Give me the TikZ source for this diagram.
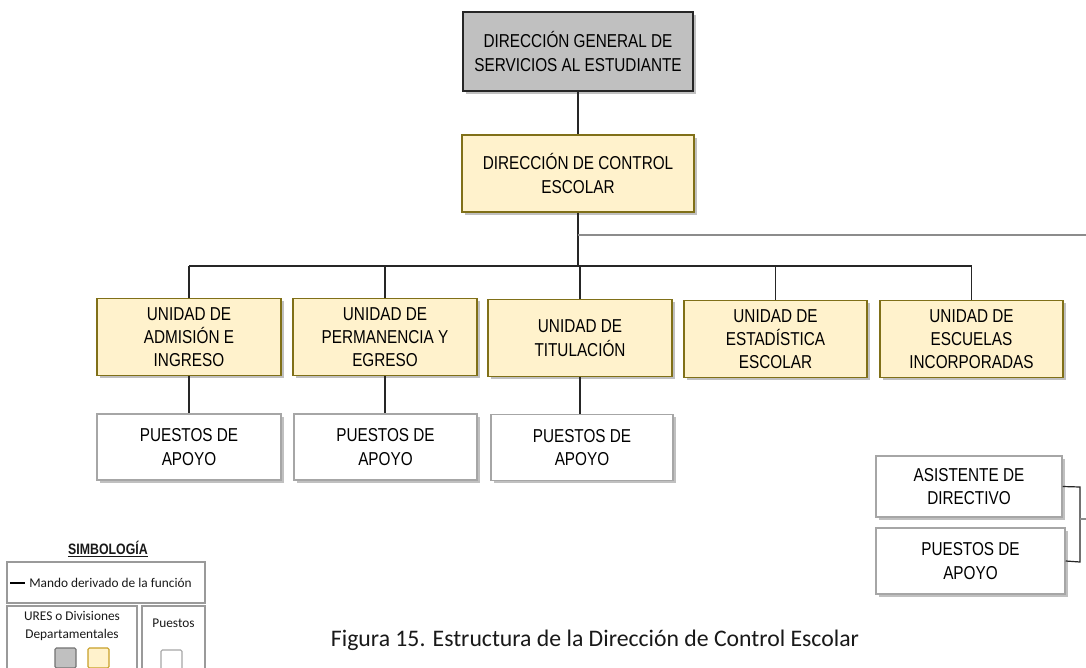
\documentclass[tikz,border=0pt]{standalone}
\usepackage{fontspec}
\setmainfont{Liberation Sans}[FakeStretch=0.82]
\newfontfamily\calfont{Carlito}
\usetikzlibrary{shadows}
\definecolor{unitfill}{HTML}{FFF2CC}
\definecolor{unitdraw}{RGB}{128,112,24}
\definecolor{dgfill}{HTML}{C0C0C0}
\definecolor{wdraw}{HTML}{A6A6A6}
\definecolor{legdraw}{HTML}{9A9A9A}
\tikzset{
  boxbase/.style={rectangle, align=center, text=black,
    font=\fontsize{14}{17.5}\selectfont, inner sep=2pt,
    drop shadow={shadow xshift=2.2pt, shadow yshift=-2.2pt, opacity=0.35, fill=black!70}},
  dgbox/.style={boxbase, fill=dgfill, draw=black!85, line width=1.1pt},
  unitbox/.style={boxbase, fill=unitfill, draw=unitdraw, line width=1.1pt},
  postbox/.style={boxbase, fill=white, draw=wdraw, line width=1.1pt},
  conn/.style={draw=black!85, line width=0.9pt},
  thinconn/.style={draw=black!45, line width=0.8pt},
  legbox/.style={draw=legdraw, line width=0.8pt},
  legtext/.style={font=\calfont\fontsize{10}{13}\selectfont, text=black!90, align=center, inner sep=0pt}
}
\begin{document}
\begin{tikzpicture}[x=0.75pt,y=-0.75pt]
\clip (0,0) rectangle (1086,668);
\fill[white] (0,0) rectangle (1086,668);

% top levels
\node[dgbox, minimum width=172.5pt, minimum height=59.25pt] (dg) at (578,51.5)
  {DIRECCIÓN GENERAL DE\\SERVICIOS AL ESTUDIANTE};
\node[unitbox, minimum width=174pt, minimum height=57.75pt] (dce) at (578,173.5)
  {DIRECCIÓN DE CONTROL\\ESCOLAR};

% units
\node[unitbox, minimum width=138pt, minimum height=57.75pt] (u1) at (189,337)
  {UNIDAD DE\\ADMISIÓN E\\INGRESO};
\node[unitbox, minimum width=138pt, minimum height=57.75pt] (u2) at (385,337)
  {UNIDAD DE\\PERMANENCIA Y\\EGRESO};
\node[unitbox, minimum width=138pt, minimum height=57.75pt] (u3) at (580,338)
  {UNIDAD DE\\TITULACIÓN};
\node[unitbox, minimum width=137pt, minimum height=57.75pt] (u4) at (775.5,339)
  {UNIDAD DE\\ESTADÍSTICA\\ESCOLAR};
\node[unitbox, minimum width=137pt, minimum height=57.75pt] (u5) at (971.5,339)
  {UNIDAD DE\\ESCUELAS\\INCORPORADAS};

% support posts
\node[postbox, minimum width=138pt, minimum height=49.5pt] (p1) at (189,447)
  {PUESTOS DE\\APOYO};
\node[postbox, minimum width=137.25pt, minimum height=49.5pt] (p2) at (385.5,447)
  {PUESTOS DE\\APOYO};
\node[postbox, minimum width=136.5pt, minimum height=49.5pt] (p3) at (582,447.5)
  {PUESTOS DE\\APOYO};

% assistant group
\node[postbox, minimum width=139.5pt, minimum height=45.75pt] (as) at (969,486.5)
  {ASISTENTE DE\\DIRECTIVO};
\node[postbox, minimum width=141.75pt, minimum height=49.5pt] (p4) at (970.5,561)
  {PUESTOS DE\\APOYO};

% connectors
\coordinate (bus) at (578,266);
\coordinate (side) at (578,235);
\coordinate (sideend) at (1086,235);
\draw[conn] (dg.south) -- (dce.north);
\draw[conn] (dce.south) -- (bus);
\draw[conn] (u1.north |- bus) -- (u5.north |- bus);
\foreach \u in {u1,u2,u3,u4,u5} { \draw[conn] (\u.north |- bus) -- (\u.north); }
\draw[conn] (u1.south) -- (u1.south |- p1.north);
\draw[conn] (u2.south) -- (u2.south |- p2.north);
\draw[conn] (u3.south) -- (u3.south |- p3.north);
\draw[thinconn] (side) -- (sideend);

\coordinate (br1) at (1080,487);
\coordinate (br2) at (1080,562);
\coordinate (brtick) at (1080,519);
\coordinate (brend) at (1086,519);
\draw[conn] (as.east) -- (br1) -- (br2) -- (p4.east);
\draw[thinconn] (brtick) -- (brend);

% legend
\node[font=\bfseries\fontsize{11.3}{13}\selectfont, text=black!90, inner sep=0pt] (simb) at (108,549) {\underline{SIMBOLOGÍA}};
\draw[legbox] (7,562) rectangle (205,603);
\coordinate (dashA) at (10,583);
\coordinate (dashB) at (25,583);
\draw[black, line width=1.2pt] (dashA) -- (dashB);
\node[legtext, anchor=west] (mando) at (29,583) {Mando derivado de la función};
\draw[legbox] (7,606) rectangle (137,690);
\draw[legbox] (142,606) rectangle (205,690);
\node[legtext] (ures) at (72,626) {URES o Divisiones\\Departamentales};
\node[legtext] (puestos) at (173.5,623) {Puestos};
\draw[draw=black!55, fill=dgfill, line width=0.8pt, rounded corners=1pt] (55,648) rectangle (76,668);
\draw[draw={rgb,255:red,200;green,160;blue,40}, fill=unitfill, line width=0.8pt, rounded corners=1pt] (88,648) rectangle (109,668);
\draw[draw=black!35, fill=white, line width=0.8pt, rounded corners=1pt] (161,650) rectangle (182,670);

% caption
\node[font=\calfont\fontsize{17.8}{21}\selectfont, text=black!90, inner sep=0pt] (cap) at (595,640)
  {Figura 15. Estructura de la Dirección de Control Escolar};
\end{tikzpicture}
\end{document}
